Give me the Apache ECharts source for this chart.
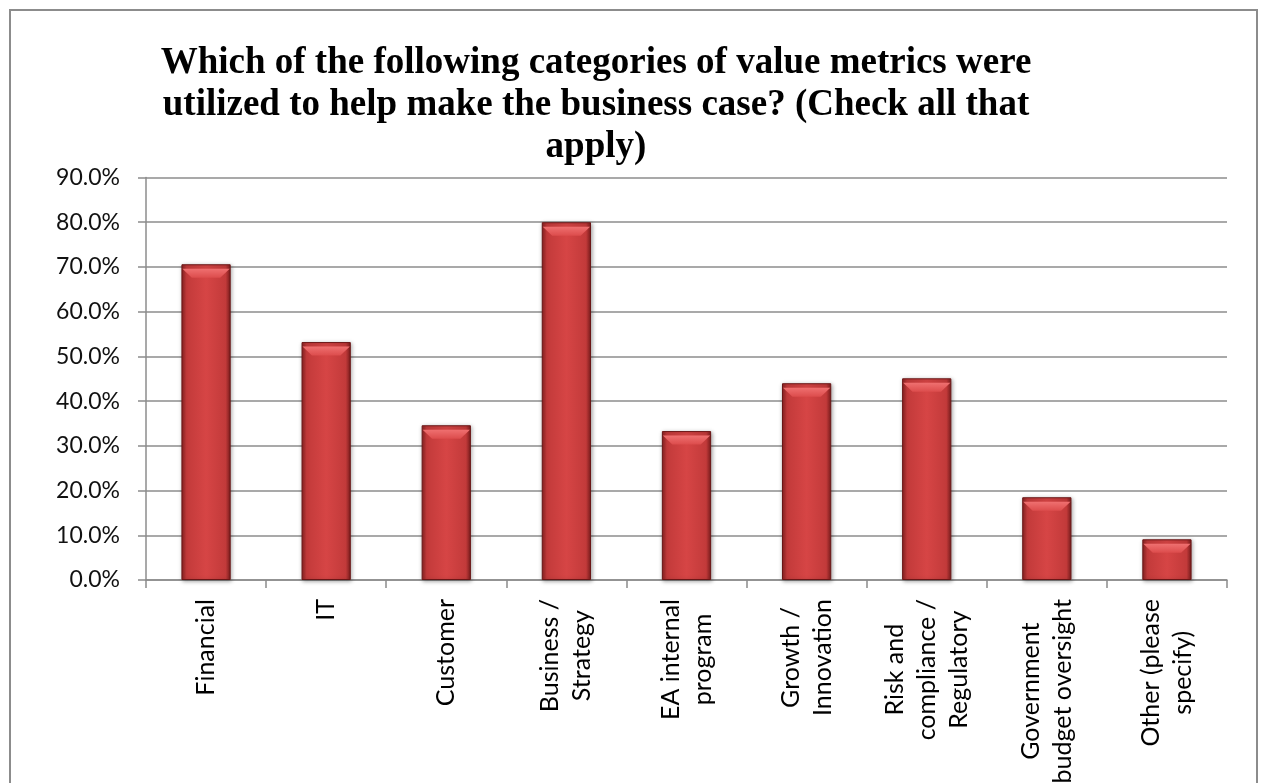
<!DOCTYPE html>
<html>
<head>
<meta charset="utf-8">
<script src="https://cdn.jsdelivr.net/npm/echarts@6/dist/echarts.min.js"></script>
<style>
html,body{margin:0;padding:0;background:#fff;}
#chart{width:1263px;height:783px;}
</style>
</head>
<body>
<div id="chart"></div>
<script>
const titleLines = [
  'Which of the following categories of value metrics were',
  'utilized to help make the business case? (Check all that',
  'apply)'
];
const categories = [
  'Financial',
  'IT',
  'Customer',
  'Business /\nStrategy',
  'EA internal\nprogram',
  'Growth /\nInnovation',
  'Risk and\ncompliance /\nRegulatory',
  'Government\nbudget oversight',
  'Other (please\nspecify)'
];
const values = [70.6, 53.2, 34.6, 80.0, 33.3, 44.0, 45.1, 18.5, 9.1];
const yMin = 0, yMax = 90, yStep = 10;

const chart = echarts.init(document.getElementById('chart'), null, {renderer: 'canvas'});
const barColor = {
  type: 'linear', x: 0, y: 0, x2: 1, y2: 0,
  colorStops: [
    {offset: 0, color: '#8a2222'},
    {offset: 0.1, color: '#c23a3a'},
    {offset: 0.5, color: '#d64545'},
    {offset: 0.9, color: '#c23a3a'},
    {offset: 1, color: '#7a1c1c'}
  ]
};
const bevelColor = {
  type: 'linear', x: 0, y: 0, x2: 0, y2: 1,
  colorStops: [
    {offset: 0, color: '#ef7070'},
    {offset: 1, color: '#dc4c4c'}
  ]
};
chart.setOption({
  animation: false,
  backgroundColor: '#ffffff',
  title: {
    text: titleLines.join('\n'),
    left: 591,
    top: 37,
    textAlign: 'center',
    textStyle: {
      fontFamily: '"Liberation Serif", "Times New Roman", serif',
      fontWeight: 'bold',
      fontSize: 37,
      lineHeight: 42,
      color: '#000'
    }
  },
  graphic: [{
    type: 'rect',
    shape: {x: 10, y: 10, width: 1247, height: 800},
    style: {fill: 'none', stroke: '#8c8c8c', lineWidth: 2},
    silent: true,
    z: -1
  }],
  grid: {left: 146, right: 36, top: 177.5, bottom: 203, containLabel: false, outerBoundsMode: 'none'},
  xAxis: {
    type: 'category',
    data: categories,
    axisLine: {show: true, lineStyle: {color: '#8c8c8c', width: 1.5}},
    axisTick: {show: true, alignWithLabel: false, length: 8, lineStyle: {color: '#8c8c8c', width: 1.5}},
    axisLabel: {
      interval: 0,
      rotate: 90,
      margin: 19,
      color: '#000',
      fontFamily: 'Lato, "Open Sans", sans-serif',
      fontSize: 25,
      lineHeight: 32,
      formatter: function (v) {
        return v.split('\n').map(function (s) { return '{c|' + s + '}'; }).join('\n');
      },
      rich: {
        c: {align: 'center', fontFamily: 'Lato, "Open Sans", sans-serif', fontSize: 25, lineHeight: 32, color: '#000'}
      }
    },
    splitLine: {show: false}
  },
  yAxis: {
    type: 'value',
    min: yMin,
    max: yMax,
    interval: yStep,
    axisLine: {show: true, lineStyle: {color: '#8c8c8c', width: 1.5}},
    axisTick: {show: true, length: 8, lineStyle: {color: '#8c8c8c', width: 1.5}},
    axisLabel: {
      margin: 26,
      color: '#111',
      fontFamily: 'Lato, "Open Sans", sans-serif',
      fontSize: 23,
      formatter: function (v) { return v.toFixed(1) + '%'; }
    },
    splitLine: {show: true, lineStyle: {color: '#8c8c8c', width: 1.5}}
  },
  series: [{
    type: 'bar',
    data: values,
    barWidth: '41%',
    itemStyle: {
      color: barColor,
      borderColor: '#6a1616',
      borderWidth: 1,
      shadowColor: 'rgba(0,0,0,0.35)',
      shadowBlur: 4,
      shadowOffsetX: 1,
      shadowOffsetY: 1
    }
  }, {
    type: 'pictorialBar',
    data: values,
    barWidth: '41%',
    symbol: 'path://M0,0 L100,0 L80,10 L20,10 Z',
    symbolSize: ['96%', 9],
    symbolPosition: 'end',
    symbolOffset: [0, '50%'],
    symbolKeepAspect: false,
    silent: true,
    z: 3,
    itemStyle: {color: bevelColor}
  }]
});
</script>
</body>
</html>
